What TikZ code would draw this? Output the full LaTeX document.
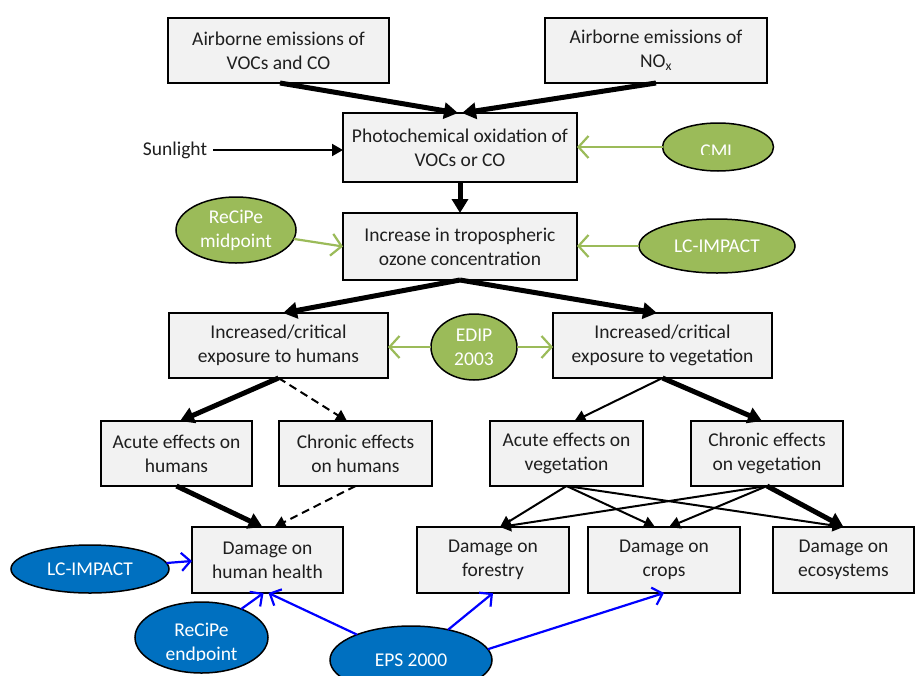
\documentclass[tikz,border=0pt]{standalone}
\usepackage{fontspec}
\setmainfont{Carlito}
\usetikzlibrary{arrows.meta,shapes.geometric}
\definecolor{boxfill}{HTML}{F2F2F2}
\definecolor{olive}{HTML}{9BBB59}
\definecolor{ocean}{HTML}{0070C0}
\definecolor{linkblue}{HTML}{0000FF}

\begin{document}
\begin{tikzpicture}[x=1pt,y=-1pt,
  every node/.style={font=\fontsize{19.5}{24}\selectfont, inner sep=0pt, outer sep=0pt},
  stage/.style={draw=black, line width=1.5pt, fill=boxfill, align=center, text=black!88},
  greenoval/.style={ellipse, draw=black, line width=1.5pt, fill=olive, text=white, align=center},
  blueoval/.style={ellipse, draw=black, line width=1.5pt, fill=ocean, text=white, align=center},
  ovaltext/.style={text=white, align=center},
  heavy/.style={line width=5pt, -{Triangle[length=14pt,width=16pt]}},
  light/.style={line width=2pt, -{Triangle[length=11pt,width=12pt]}},
  lightdash/.style={light, dash pattern=on 8pt off 5pt},
  greenlink/.style={draw=olive, line width=2.2pt, -{Straight Barb[length=10pt,width=22pt]}},
  bluelink/.style={draw=linkblue, line width=2.2pt, -{Straight Barb[length=9pt,width=18pt]}},
]
% canvas
\path[fill=white, use as bounding box] (0,0) rectangle (915,675);

% process chain
\node[stage, minimum width=221pt, minimum height=65pt] (voc)   at (278.5,50.5)  {Airborne emissions of\\VOCs and CO};
\node[stage, minimum width=222pt, minimum height=65pt] (nox)   at (656,50.5)    {Airborne emissions of\\NO\textsubscript{x}};
\node[stage, minimum width=234pt, minimum height=69pt] (photo) at (460,147.5)   {Photochemical oxidation of\\VOCs or CO};
\node[stage, minimum width=234pt, minimum height=67pt] (incr)  at (460,246.5)   {Increase in tropospheric\\ozone concentration};
\node[stage, minimum width=219pt, minimum height=65pt] (exph)  at (278.5,345.5) {Increased/critical\\exposure to humans};
\node[stage, minimum width=219pt, minimum height=65pt] (expv)  at (662.5,345.5) {Increased/critical\\exposure to vegetation};
\node[stage, minimum width=151pt, minimum height=65pt] (acuh)  at (176.5,453.5) {Acute effects on\\humans};
\node[stage, minimum width=153pt, minimum height=65pt] (chrh)  at (355.5,453.5) {Chronic effects\\on humans};
\node[stage, minimum width=153pt, minimum height=65pt] (acuv)  at (566.5,453.5) {Acute effects on\\vegetation};
\node[stage, minimum width=152pt, minimum height=65pt] (chrv)  at (767,453.5)   {Chronic effects\\on vegetation};
\node[stage, minimum width=151pt, minimum height=66pt] (dhh)   at (267.5,560)   {Damage on\\human health};
\node[stage, minimum width=152pt, minimum height=66pt] (dfo)   at (493,560)     {Damage on\\forestry};
\node[stage, minimum width=152pt, minimum height=66pt] (dcr)   at (664,560)     {Damage on\\crops};
\node[stage, minimum width=141pt, minimum height=66pt] (dec)   at (843.5,560)   {Damage on\\ecosystems};

\node[text=black!88] (sun) at (175,150) {Sunlight};

% midpoint methods
\node[greenoval, minimum width=111pt, minimum height=48pt] (cml) at (718,147) {};
\begin{scope}
  \clip (655,110) rectangle (785,154);
  \node[ovaltext, anchor=base] (cmltext) at (718,157.5) {CML};
\end{scope}
\node[greenoval, minimum width=120pt, minimum height=66pt] (recmid) at (236,230) {ReCiPe\\midpoint};
\node[greenoval, minimum width=156pt, minimum height=54pt] (lcg)    at (717,246) {LC-IMPACT};
\node[greenoval, minimum width=86pt,  minimum height=66pt] (edip)   at (474,347) {EDIP\\2003};

% endpoint methods
\node[blueoval, minimum width=158pt, minimum height=48pt] (lcb)    at (90,569)      {LC-IMPACT};
\node[blueoval, minimum width=133pt, minimum height=71pt] (recend) at (201.5,637.5) {};
\begin{scope}
  \clip (130,600) rectangle (275,660);
  \node[ovaltext] (recendtext) at (201.5,643) {ReCiPe\\endpoint};
\end{scope}
\node[blueoval, minimum width=162pt, minimum height=68pt] (eps) at (411,660) {EPS 2000};

% cause-effect links
\draw[heavy] ([xshift=1.5pt]voc.south) -- ([xshift=-2pt]photo.north);
\draw[heavy] (nox.south) -- ([xshift=2pt]photo.north);
\draw[light] ([xshift=6pt]sun.east) -- (sun.east -| photo.west);
\draw[heavy] (photo.south) -- (incr.north);
\draw[heavy] (incr.south) -- ([xshift=4.5pt]exph.north);
\draw[heavy] (incr.south) -- ([xshift=-5.5pt]expv.north);
\draw[heavy] (exph.south) -- ([xshift=3.5pt]acuh.north);
\draw[lightdash] (exph.south) -- ([xshift=-8.5pt]chrh.north);
\draw[light] (expv.south) -- ([xshift=8pt]acuv.north);
\draw[heavy] (expv.south) -- ([xshift=-5pt]chrv.north);
\draw[heavy] (acuh.south) -- ([xshift=-5pt]dhh.north);
\draw[lightdash] (chrh.south) -- ([xshift=7pt]dhh.north);
\draw[light] (acuv.south) -- ([xshift=7pt]dfo.north);
\draw[light] (acuv.south) -- ([xshift=-9pt]dcr.north);
\draw[light] (acuv.south) -- (dec.north);
\draw[light] (chrv.south) -- ([xshift=7pt]dfo.north);
\draw[light] (chrv.south) -- ([xshift=5pt]dcr.north);
\draw[heavy] (chrv.south) -- (dec.north);

% method links (midpoint)
\draw[greenlink] (cml.west) -- (cml.west -| photo.east);
\draw[greenlink] (recmid) -- (incr.west);
\draw[greenlink] (lcg.west) -- (lcg.west -| incr.east);
\draw[greenlink] (edip.west) -- (edip.west -| exph.east);
\draw[greenlink] (edip.east) -- (edip.east -| expv.west);

% method links (endpoint)
\draw[bluelink] (lcb) -- ([yshift=-1pt]dhh.west);
\draw[bluelink] (recend) -- ([xshift=-4pt]dhh.south);
\draw[bluelink] (eps) -- ([xshift=1pt]dhh.south);
\draw[bluelink] (eps) -- (dfo.south);
\draw[bluelink] (eps.8) -- (dcr.south);
\end{tikzpicture}
\end{document}
